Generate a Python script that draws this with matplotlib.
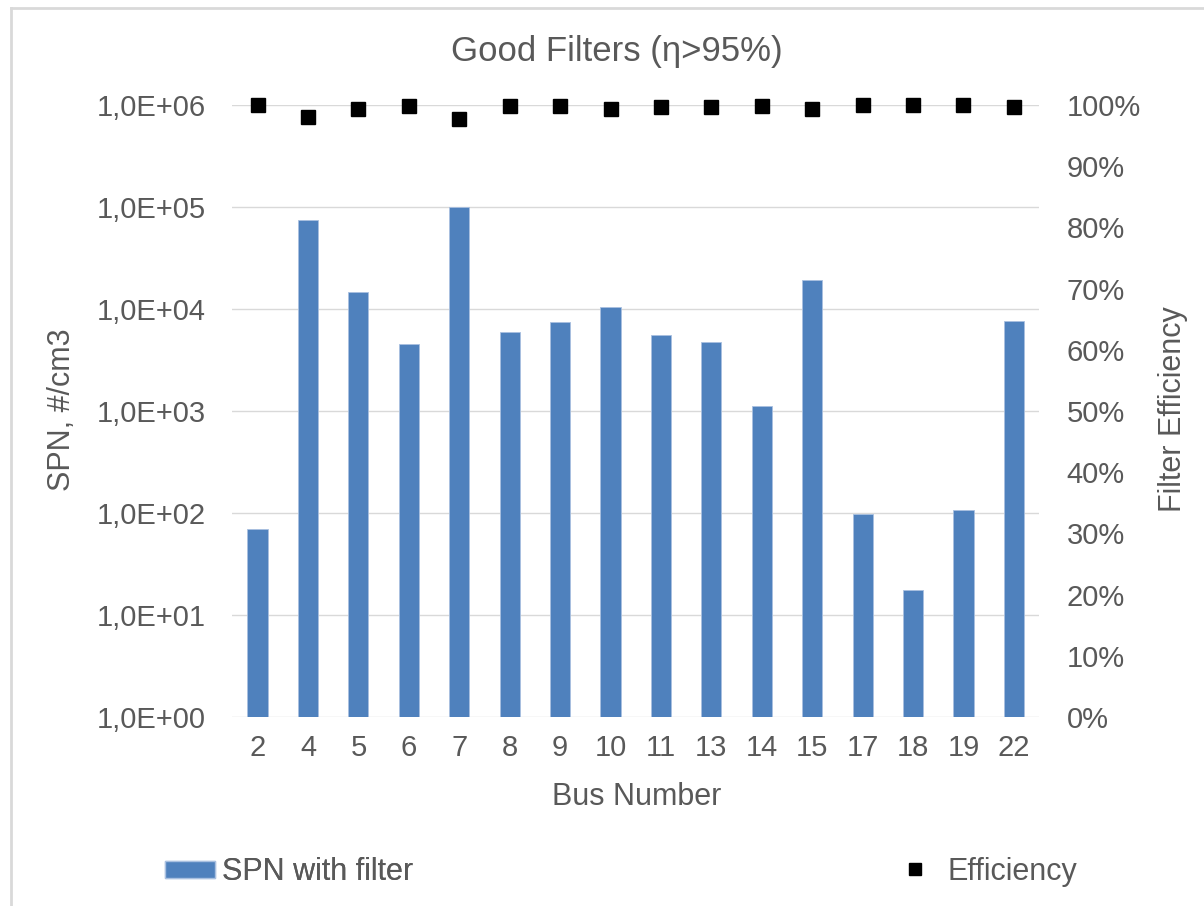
import math
import matplotlib
matplotlib.use("Agg")
import matplotlib.pyplot as plt
from matplotlib.lines import Line2D
from matplotlib.patches import Patch
from matplotlib.ticker import FixedLocator, FuncFormatter, NullLocator

plt.rcParams.update({
    "font.family": ["Liberation Sans", "DejaVu Sans"],
    "text.color": "#595959",
    "axes.labelcolor": "#595959",
    "xtick.color": "#595959",
    "ytick.color": "#595959",
})

# data
bus = ["2", "4", "5", "6", "7", "8", "9", "10", "11", "13", "14", "15",
       "17", "18", "19", "22"]
spn = [68, 75000, 14600, 4570, 100000, 5900, 7400, 10400, 5500, 4800,
       1110, 19200, 96, 16.7, 107, 7700]
eff = [1.000, 0.981, 0.993, 0.999, 0.977, 0.999, 0.999, 0.993, 0.997,
       0.997, 0.999, 0.993, 1.000, 1.000, 1.000, 0.997]

BLUE = "#4F81BD"
GRID = "#D9D9D9"
FS = 21      # tick labels
FS_LAB = 22  # axis titles, legend

fig = plt.figure(figsize=(12.04, 9.06), dpi=100)
ax = fig.add_axes([0.193, 0.2086, 0.670, 0.6755])
x = list(range(len(bus)))

ax.bar(x, spn, width=0.4, bottom=1, color=BLUE, edgecolor="#A9C0E0",
       linewidth=0.6, zorder=2)
ax.set_yscale("log")
ax.set_ylim(1, 1e6)
ax.set_xlim(-0.5, len(bus) - 0.5)
ax.yaxis.set_major_locator(FixedLocator([10.0 ** k for k in range(7)]))
ax.yaxis.set_minor_locator(NullLocator())
ax.yaxis.set_major_formatter(FuncFormatter(
    lambda v, p: "1,0E+%02d" % round(math.log10(v))))
ax.set_xticks(x)
ax.set_xticklabels(bus)
ax.grid(axis="y", color=GRID, linewidth=1.0, zorder=0)
ax.tick_params(axis="y", length=0, labelsize=FS, pad=19)
ax.tick_params(axis="x", length=0, labelsize=FS, pad=12)
for s in ax.spines.values():
    s.set_visible(False)

ax2 = ax.twinx()
ax2.plot(x, eff, linestyle="none", marker="s", ms=9.5, color="black",
         zorder=3, clip_on=False)
ax2.set_ylim(0, 1)
ax2.set_yticks([i / 10 for i in range(11)])
ax2.yaxis.set_major_formatter(FuncFormatter(lambda v, p: "%d%%" % round(v * 100)))
ax2.tick_params(length=0, labelsize=FS, pad=20)
for s in ax2.spines.values():
    s.set_visible(False)

# axis titles and chart title
fig.text(0.0515, 0.548, "SPN, #/cm3", rotation=90, ha="center", va="center",
         fontsize=FS_LAB)
fig.text(0.974, 0.548, "Filter Efficiency", rotation=90, ha="center",
         va="center", fontsize=FS_LAB)
fig.text(0.529, 0.120, "Bus Number", ha="center", va="center",
         fontsize=FS_LAB)
fig.text(0.512, 0.943, "Good Filters (\u03b7>95%)", ha="center", va="center",
         fontsize=25)

leg1 = fig.legend(handles=[Patch(facecolor=BLUE, edgecolor="#A9C0E0",
                                 label="SPN with filter")],
                  loc="center left", bbox_to_anchor=(0.137, 0.0375),
                  frameon=False, fontsize=FS_LAB, handlelength=1.63,
                  handleheight=0.48, handletextpad=0.23,
                  borderpad=0, borderaxespad=0)
fig.legend(handles=[Line2D([], [], linestyle="none", marker="s", ms=8,
                           color="black", label="Efficiency")],
           loc="center left", bbox_to_anchor=(0.754, 0.0375),
           frameon=False, fontsize=FS_LAB, handlelength=0.5,
           handletextpad=0.8, borderpad=0, borderaxespad=0)
fig.add_artist(leg1)

# chart-area border like the spreadsheet frame
fig.add_artist(Line2D([0.009, 1.0], [0.991, 0.991], color="#D9D9D9",
                      linewidth=2, transform=fig.transFigure))
fig.add_artist(Line2D([0.0095, 0.0095], [0.0, 0.991], color="#D9D9D9",
                      linewidth=2, transform=fig.transFigure))

fig.savefig("out.png", dpi=100)
